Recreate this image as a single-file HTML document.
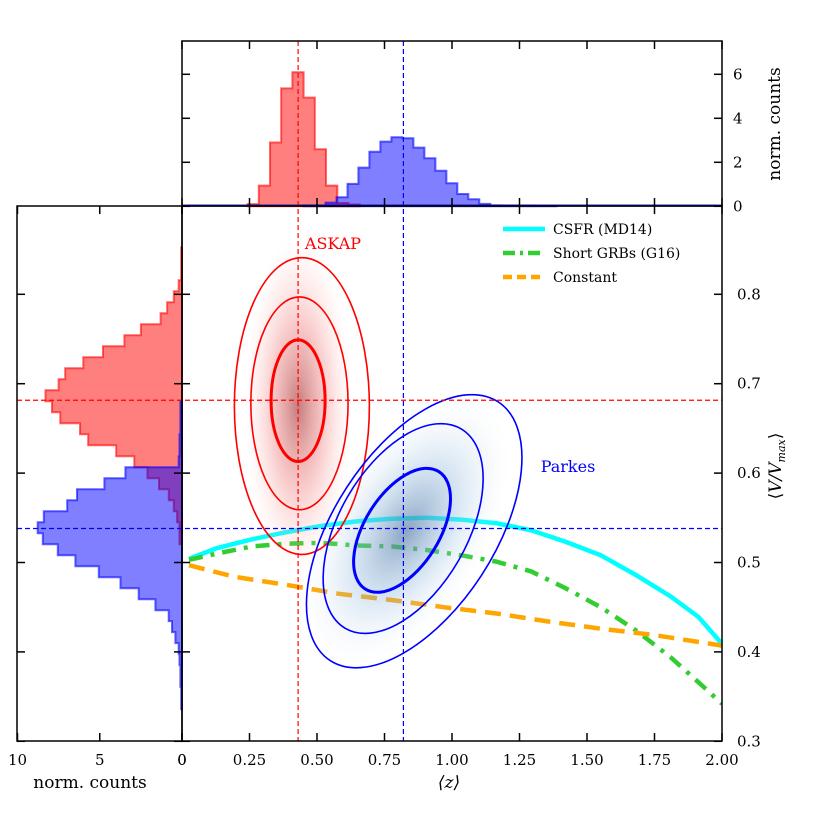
<!DOCTYPE html>
<html><head><meta charset="utf-8"><style>
body{margin:0;background:#fff}
svg{display:block}
text{font-family:"DejaVu Serif","Liberation Serif",serif}
</style></head><body>
<svg id="c" width="831" height="825" viewBox="0 0 831 825" xmlns="http://www.w3.org/2000/svg">
<defs>
<radialGradient id="gr"><stop offset="0" stop-color="#b05050" stop-opacity="0.75"/><stop offset="0.5" stop-color="#f08080" stop-opacity="0.4"/><stop offset="1" stop-color="#ffd0c8" stop-opacity="0"/></radialGradient>
<radialGradient id="gb"><stop offset="0" stop-color="#5a7ea8" stop-opacity="0.7"/><stop offset="0.5" stop-color="#8fb8dc" stop-opacity="0.35"/><stop offset="1" stop-color="#e4eef8" stop-opacity="0"/></radialGradient>
<clipPath id="mainclip"><rect x="182" y="206" width="540" height="535"/></clipPath>
</defs>
<g id="g"></g>
</svg>
<script>
// ---- data ----
const zCsfr=[0.026,0.129,0.259,0.388,0.517,0.646,0.776,0.905,1.034,1.164,1.293,1.422,1.551,1.681,1.81,1.913,2.0];
const vCsfr=[0.504,0.516,0.526,0.534,0.541,0.546,0.549,0.550,0.548,0.544,0.536,0.523,0.508,0.486,0.462,0.439,0.409];
const zGrb=[0.026,0.129,0.259,0.388,0.517,0.646,0.776,0.905,1.034,1.164,1.293,1.422,1.551,1.681,1.81,1.913,2.0];
const vGrb=[0.503,0.510,0.518,0.521,0.522,0.519,0.518,0.514,0.508,0.501,0.490,0.471,0.450,0.424,0.394,0.366,0.342];
const zConst=[0.026,0.194,0.388,0.582,0.776,0.970,1.164,1.357,1.551,1.745,2.0];
const vConst=[0.497,0.484,0.475,0.465,0.458,0.450,0.443,0.434,0.426,0.419,0.407];
const xTicks=[0,0.25,0.5,0.75,1.0,1.25,1.5,1.75,2.0];
const xTickLabels=["0","0.25","0.50","0.75","1.00","1.25","1.50","1.75","2.00"];
const yTicks=[0.3,0.4,0.5,0.6,0.7,0.8];
const yTickLabels=["0.3","0.4","0.5","0.6","0.7","0.8"];
const topTicks=[0,2,4,6];
const leftTicks=[10,5,0];
const redTopStart=0.243, redTopW=0.0415;
const redTop=[0.1,0.94,2.9,5.36,6.09,4.94,2.59,0.94,0.15,0.08];
const blueTopStart=0.45, blueTopW=0.0407;
const blueTop=[0.03,0.03,0.17,0.41,1.02,1.76,2.48,2.94,3.14,3.09,2.67,2.18,1.62,1.05,0.56,0.32,0.11,0.03,0.02,0.02,0.02,0.01,0.01];
const redLeftTop=0.8526, leftBinW=0.0123;
const redLeft=[0.05,0.05,0.05,0.2,0.5,0.9,1.3,2.5,3.5,4.8,6.0,7.1,7.5,8.3,7.9,7.4,6.2,5.7,4.0,2.9,2.1,1.4,0.8,0.5,0.3,0.15,0.15];
const blueLeftTop=0.6804;
const blueLeft=[0.1,0.1,0.1,0.15,0.15,0.2,3.44,4.72,6.38,6.98,8.4,8.77,8.46,7.55,6.48,5.06,3.74,2.63,1.62,0.81,0.61,0.4,0.2,0.15,0.1,0.1,0.05,0.05];
const meanZ=[0.43,0.82];
const meanV=[0.6815,0.538];
const redCz=[0.43,0.435,0.444], redCv=[0.681,0.678,0.675], redRz=[0.1,0.18,0.25], redRv=[0.068,0.119,0.166];
const blueCz=[0.815,0.819,0.86], blueCv=[0.536,0.538,0.535], blueMaj=[0.155,0.258,0.345], blueMin=[0.0417,0.0716,0.09], blueAng=[-58,-60,-57];

// ---- scales ----
const X=z=>182+z*270;
const Y=v=>294.3+(0.8-v)*894;
const T=c=>206.3-c*22;
const L=c=>182-c*16.45;
const NS="http://www.w3.org/2000/svg";
const G=document.getElementById('g');
function mk(tag,attrs,parent){const e=document.createElementNS(NS,tag);for(const k in attrs)e.setAttribute(k,attrs[k]);(parent||G).appendChild(e);return e;}

const heat=mk('g',{'clip-path':'url(#mainclip)'});



function poly(zs,vs,attrs,name){const d=zs.map((z,i)=>(i?'L':'M')+X(z).toFixed(1)+','+Y(vs[i]).toFixed(1)).join('');const p=mk('path',Object.assign({d:d,fill:'none','clip-path':'url(#mainclip)'},attrs));

return p;}
poly(zCsfr,vCsfr,{stroke:'#00ffff','stroke-width':4.5},'csfr-line');
poly(zGrb,vGrb,{stroke:'#33cc33','stroke-width':4.5,'stroke-dasharray':'14,8,4,8'},'short-grb-line');
poly(zConst,vConst,{stroke:'#ffa500','stroke-width':4.5,'stroke-dasharray':'16,9'},'constant-line');

const heat2=mk('g',{'clip-path':'url(#mainclip)'});


const rh=mk('ellipse',{cx:X(0.43),cy:Y(0.675),rx:0.2*270,ry:0.19*894,fill:'url(#gr)'},heat2);


const bcx=X(0.83),bcy=Y(0.535);
const bh=mk('ellipse',{cx:bcx,cy:bcy,rx:150,ry:80,fill:'url(#gb)',transform:`rotate(-58 ${bcx} ${bcy})`},heat2);



redCz.forEach((z,i)=>{const e=mk('ellipse',{cx:X(z),cy:Y(redCv[i]),rx:redRz[i]*270,ry:redRv[i]*894,fill:'none',stroke:'#ff0000','stroke-width':i==0?3:1.6});

});
blueCz.forEach((z,i)=>{const cx=X(z),cy=Y(blueCv[i]);const e=mk('ellipse',{cx:cx,cy:cy,rx:blueMaj[i]*447,ry:blueMin[i]*894,fill:'none',stroke:'#0000ff','stroke-width':i==0?3:1.6,transform:`rotate(${blueAng[i]} ${cx} ${cy})`});

});

function topHist(start,w,vals,fill,stroke,name){let d='M'+X(start)+','+T(0);vals.forEach((c,i)=>{d+='L'+X(start+i*w).toFixed(1)+','+T(c).toFixed(1)+'L'+X(start+(i+1)*w).toFixed(1)+','+T(c).toFixed(1);});d+='L'+X(start+vals.length*w)+','+T(0)+'Z';
const p=mk('path',{d:d,fill:fill,'fill-opacity':0.5,stroke:stroke,'stroke-opacity':0.6,'stroke-width':2});

}
topHist(redTopStart,redTopW,redTop,'#ff0000','#ff0000','askap-top-histogram');
topHist(blueTopStart,blueTopW,blueTop,'#0000ff','#0000ff','parkes-top-histogram');
const base=mk('line',{x1:182,x2:722,y1:T(0)-1,y2:T(0)-1,stroke:'#0000ff','stroke-opacity':0.6,'stroke-width':2});



function leftHist(top,w,vals,fill,name){let d='M'+L(0)+','+Y(top);vals.forEach((c,i)=>{d+='L'+L(c).toFixed(1)+','+Y(top-i*w).toFixed(1)+'L'+L(c).toFixed(1)+','+Y(top-(i+1)*w).toFixed(1);});d+='L'+L(0)+','+Y(top-vals.length*w)+'Z';
const p=mk('path',{d:d,fill:fill,'fill-opacity':0.5,stroke:fill,'stroke-opacity':0.6,'stroke-width':2});

}
leftHist(redLeftTop,leftBinW,redLeft,'#ff0000','askap-left-histogram');
leftHist(blueLeftTop,leftBinW,blueLeft,'#0000ff','parkes-left-histogram');

const cols=['#ff0000','#0000ff'];
meanZ.forEach((z,i)=>{const l=mk('line',{x1:X(z),x2:X(z),y1:41,y2:741,stroke:cols[i],'stroke-width':1.2,'stroke-dasharray':'5,3'});

});
meanV.forEach((v,i)=>{const l=mk('line',{x1:17,x2:722,y1:Y(v),y2:Y(v),stroke:cols[i],'stroke-width':1.2,'stroke-dasharray':'5,3'});

});

function frame(x,y,w,h,name){const r=mk('rect',{x:x,y:y,width:w,height:h,fill:'none',stroke:'#000','stroke-width':1.5});

}
frame(182,206,540,535,'main-panel-frame');
frame(182,41,540,165,'top-panel-frame');
frame(17,206,165,535,'left-panel-frame');

function tick(x1,y1,x2,y2){const t=mk('line',{x1:x1,y1:y1,x2:x2,y2:y2,stroke:'#000','stroke-width':1.5});

}
function label(x,y,s,anchor,name,extra,color){const t=mk('text',Object.assign({x:x,y:y,'text-anchor':anchor,'font-size':15},extra||{}));t.textContent=s;t.style.fill=color||'#000';

return t;}

xTicks.forEach((z,i)=>{const x=X(z);tick(x,741,x,733);tick(x,206,x,214);tick(x,206,x,198);tick(x,41,x,49);
label(x,765,xTickLabels[i],'middle','x-tick-label');});
yTicks.forEach((v,i)=>{const y=Y(v);if(y<206)return;tick(182,y,190,y);tick(722,y,714,y);tick(17,y,25,y);tick(182,y,174,y);
label(737,y+5,yTickLabels[i],'start','y-tick-label');});
topTicks.forEach(c=>{const y=T(c);tick(182,y,190,y);tick(722,y,714,y);label(733,y+5,String(c),'start','top-tick-label');});
leftTicks.forEach(c=>{const x=L(c);tick(x,741,x,733);tick(x,206,x,214);label(x,765,String(c),'middle','left-tick-label');});

label(449,788,'⟨z⟩','middle','x-axis-title',{'font-size':17,'font-style':'italic'});
label(90,788,'norm. counts','middle','left-x-axis-title',{'font-size':17});
label(0,0,'norm. counts','middle','top-y-axis-title',{'font-size':17,transform:'translate(780,124) rotate(-90)'});
label(0,0,'⟨V/V',"middle",'y-axis-title',{'font-size':17,transform:'translate(781,466) rotate(-90)'}).innerHTML='⟨<tspan font-style="italic">V/V</tspan><tspan font-size="11" dy="4" font-style="italic">max</tspan><tspan dy="-4">⟩</tspan>';

label(333,249,'ASKAP','middle','askap-label',{'font-size':16},'#ff0000');
label(568,472,'Parkes','middle','parkes-label',{'font-size':16},'#0000ff');

const lg=[['CSFR (MD14)','#00ffff',''],['Short GRBs (G16)','#33cc33','12,5,3,5'],['Constant','#ffa500','9,5']];
lg.forEach((e,i)=>{const y=229+i*24;const l=mk('line',{x1:503,x2:545,y1:y,y2:y,stroke:e[1],'stroke-width':4.5,'stroke-dasharray':e[2]||'none'});


label(553,y+5,e[0],'start','legend-entry',{'font-size':14});});
</script>
</body></html>
